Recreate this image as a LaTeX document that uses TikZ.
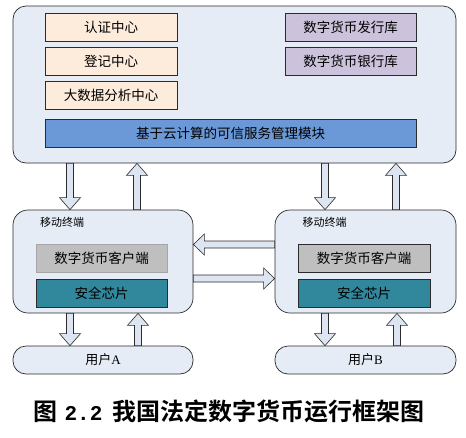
\documentclass[tikz,border=0pt]{standalone}
\usepackage{fontspec}
\setmainfont{Liberation Serif}
\newfontfamily\cjk{Noto Sans CJK SC}
\newfontfamily\cjkb{Noto Sans CJK SC Bold}
\newfontfamily\monob{Liberation Mono Bold}
\usetikzlibrary{calc}
\definecolor{panel}{HTML}{E6ECF6}
\definecolor{orangebox}{HTML}{FDEBDC}
\definecolor{purplebox}{HTML}{CDC2DB}
\definecolor{bluebar}{HTML}{6B99D8}
\definecolor{graybox}{HTML}{BFBFBF}
\definecolor{tealbox}{HTML}{31879C}
\definecolor{arrowfill}{HTML}{DCE5F1}
\definecolor{edge}{HTML}{2B2B2B}
\tikzset{
  panelbox/.style={draw=edge, fill=panel, line width=0.7pt, rounded corners=13pt},
  blockbox/.style={draw=edge, line width=0.6pt, inner sep=0pt, font=\cjk\fontsize{13.5}{14}\selectfont},
  fatv/.style={fill=arrowfill, draw=edge, line width=0.6pt, to path={
    let \p1=(\tikztostart), \p2=(\tikztotarget), \n1={sign(\y2-\y1)} in
    ({\x1-3.5pt},{\y1}) -- ({\x1+3.5pt},{\y1}) -- ({\x1+3.5pt},{\y2-\n1*12pt}) -- ({\x1+10.5pt},{\y2-\n1*12pt})
    -- ({\x1},{\y2}) -- ({\x1-10.5pt},{\y2-\n1*12pt}) -- ({\x1-3.5pt},{\y2-\n1*12pt}) -- cycle}},
  fath/.style={fill=arrowfill, draw=edge, line width=0.6pt, to path={
    let \p1=(\tikztostart), \p2=(\tikztotarget), \n1={sign(\x2-\x1)} in
    ({\x1},{\y1-3.5pt}) -- ({\x1},{\y1+3.5pt}) -- ({\x2-\n1*11pt},{\y1+3.5pt}) -- ({\x2-\n1*11pt},{\y1+10.5pt})
    -- ({\x2},{\y1}) -- ({\x2-\n1*11pt},{\y1-10.5pt}) -- ({\x2-\n1*11pt},{\y1-3.5pt}) -- cycle}},
}
\begin{document}
\begin{tikzpicture}[x=1pt,y=-1pt]
\useasboundingbox (0,0) rectangle (466,437);
% panels
\node[panelbox, minimum width=443pt, minimum height=157pt, inner sep=0pt] (top) at (234.5,84.5) {};
\node[panelbox, minimum width=180pt, minimum height=103pt, rounded corners=15pt, inner sep=0pt] (mA) at (103,261.5) {};
\node[panelbox, minimum width=181pt, minimum height=103pt, rounded corners=15pt, inner sep=0pt] (mB) at (365.5,261.5) {};
\node[panelbox, minimum width=180pt, minimum height=28pt, rounded corners=13pt, inner sep=0pt, font=\cjk\fontsize{13}{14}\selectfont] (uA) at (103,360) {用户\rmfamily A};
\node[panelbox, minimum width=181pt, minimum height=28pt, rounded corners=13pt, inner sep=0pt, font=\cjk\fontsize{13}{14}\selectfont] (uB) at (365.5,360) {用户\rmfamily B};
% top contents
\node[blockbox, fill=orangebox, minimum width=132pt, minimum height=28pt] (auth) at (111,27) {认证中心};
\node[blockbox, fill=orangebox, minimum width=132pt, minimum height=28pt] (reg) at (111,61) {登记中心};
\node[blockbox, fill=orangebox, minimum width=132pt, minimum height=28pt] (bigd) at (111,95) {大数据分析中心};
\node[blockbox, fill=purplebox, minimum width=131pt, minimum height=28pt] (issue) at (350.5,27) {数字货币发行库};
\node[blockbox, fill=purplebox, minimum width=131pt, minimum height=28pt] (bank) at (350.5,61) {数字货币银行库};
\node[blockbox, fill=bluebar, minimum width=371pt, minimum height=28pt] (tsm) at (230.5,133) {基于云计算的可信服务管理模块};
% mobile contents
\node[font=\cjk\fontsize{11}{12}\selectfont, inner sep=0pt] (lA) at (62,222) {移动终端};
\node[font=\cjk\fontsize{11}{12}\selectfont, inner sep=0pt] (lB) at (324.5,222) {移动终端};
\node[blockbox, draw=black!35, fill=graybox, minimum width=131pt, minimum height=28pt] (cA) at (101.5,258) {数字货币客户端};
\node[blockbox, fill=tealbox, minimum width=131pt, minimum height=28pt] (sA) at (101.5,293) {安全芯片};
\node[blockbox, fill=graybox, minimum width=132pt, minimum height=28pt] (cB) at (364,258) {数字货币客户端};
\node[blockbox, fill=tealbox, minimum width=132pt, minimum height=28pt] (sB) at (364,293) {安全芯片};
% vertical arrows
\path[fatv] (top.south -| 70,0) to (mA.north -| 70,0);
\path[fatv] (mA.north -| 137,0) to (top.south -| 137,0);
\path[fatv] (top.south -| 325,0) to (mB.north -| 325,0);
\path[fatv] (mB.north -| 396,0) to (top.south -| 396,0);
\path[fatv] (mA.south -| 70,0) to (uA.north -| 70,0);
\path[fatv] (uA.north -| 138,0) to (mA.south -| 138,0);
\path[fatv] (mB.south -| 325,0) to (uB.north -| 325,0);
\path[fatv] (uB.north -| 397,0) to (mB.south -| 397,0);
% horizontal arrows
\path[fath] (mB.west |- 0,244.5) to (mA.east |- 0,244.5);
\path[fath] (mA.east |- 0,278.5) to (mB.west |- 0,278.5);
% caption
\node[font=\cjkb\fontsize{24}{26}\selectfont, inner sep=0pt] (cap) at (229,411) {图\hspace{7pt}{\monob\fontsize{21}{24}\selectfont 2.2}\hspace{10pt}我国法定数字货币运行框架图};
\end{tikzpicture}
\end{document}
